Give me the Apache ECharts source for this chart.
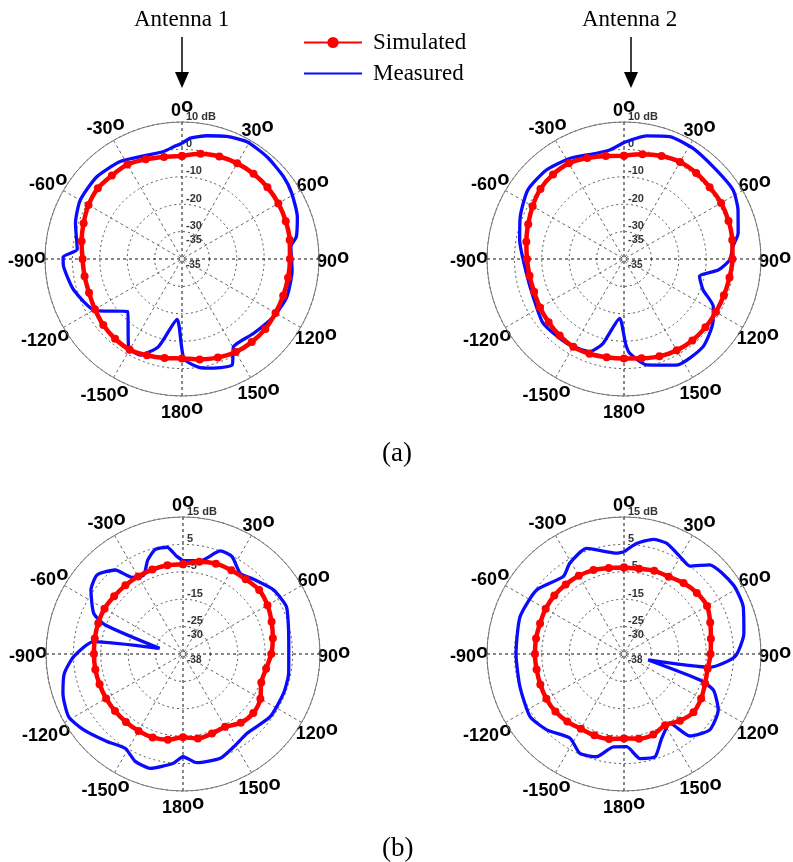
<!DOCTYPE html>
<html>
<head>
<meta charset="utf-8">
<script src="https://cdn.jsdelivr.net/npm/echarts@6/dist/echarts.min.js"></script>
<style>
html, body { margin: 0; padding: 0; background: #fff; }
#chart { width: 793px; height: 862px; }
</style>
</head>
<body>
<div id="chart"></div>
<script>
// angles (deg) where the simulated curves were read
var simAngles = [0, 10, 20, 30, 40, 50, 60, 70, 80, 90, 100, 110, 120, 130, 140, 150, 160, 170,
                 180, -170, -160, -150, -140, -130, -120, -110, -100, -90, -80, -70, -60, -50, -40, -30, -20, -10];

// (a) simulated, dB
var simA1 = [-2.4, -1.0, -0.2, 0.3, 0.6, 0.7, 0.6, 0.3, -0.1, -0.6, -0.7, -0.7, -0.6, -0.3, -0.4, -0.8, -1.7, -2.8,
             -3.7, -3.3, -2.6, -1.8, -2.0, -2.5, -3.3, -3.9, -3.9, -3.7, -2.8, -1.8, -0.6, 0.1, -0.2, -0.2, -1.3, -2.2];
var simA2 = [-2.3, -1.2, 0.0, 0.9, 1.0, 0.8, 0.9, 0.6, 0.1, -0.4, -0.9, -1.2, -1.3, -1.2, -1.2, -1.5, -2.2, -3.2,
             -3.7, -3.6, -3.2, -3.0, -3.5, -4.1, -4.6, -5.1, -5.0, -4.6, -3.8, -2.8, -1.5, -0.2, 0.3, 0.3, -0.8, -1.8];
// (b) simulated, dB
var simB1 = [-2.2, -0.8, 0.1, 0.3, 0.6, 1.3, 0.6, -0.6, -1.7, -2.8, -4.2, -4.6, -2.4, -1.5, -2.2, -4.3, -4.1, -3.7,
             -4.6, -3.2, -2.6, -2.6, -2.6, -2.6, -2.6, -2.6, -2.5, -2.5, -2.3, -2.1, -1.9, -2.2, -2.3, -2.3, -2.2, -2.1];
var simB2 = [-3.4, -3.4, -2.7, -2.4, -1.2, -0.3, 0.0, -1.5, -2.8, -3.4, -4.0, -3.5, -2.5, -1.9, -3.2, -5.0, -3.7, -3.6,
             -4.2, -3.5, -3.4, -3.5, -2.8, -2.3, -2.3, -2.5, -2.6, -2.5, -2.4, -2.4, -2.0, -1.8, -1.9, -2.0, -2.4, -3.1];

// measured curves: angle (deg) and level (dB)
var measA1Ang = [0, 4, 11.5, 20, 29, 40, 51, 59, 70, 79, 83.5, 96, 110, 122, 136, 149.5, 154.7, 167, 172, 179,
                 -175.3, -165, -156.5, -148.7, -134, -120.8, -106, -93.7, -89, -84.7, -71.5, -60, -46, -32.4, -18.6, -9.7, -4.2, 0];
var measA1 = [2.2, 4.2, 5.9, 7.6, 8.9, 8.5, 7.7, 6.7, 4.8, 2.5, 0.0, 0.4, 0.7, -0.5, -2.3, -2.9, 2.8, 0.9, -0.3, -3.7,
              -17.9, -6.9, -1.8, -2.5, -12.4, -3.2, 1.1, 3.3, 3.4, -1.6, 1.0, 2.9, 3.2, 2.1, 0.0, -0.2, 1.1, 2.2];

var measA2Ang = [0, 10.3, 20.5, 32, 46, 57.7, 66.7, 77.3, 83.5, 90.5, 96.7, 103, 111.4, 118, 125.9, 138, 153.7, 168, 176.6, 179,
                 -175.8, -166, -159.7, -145.6, -128.5, -112.5, -98.3, -79.7, -67.8, -54.3, -41.1, -28.4, -14.7, -7.5, 0];
var measA2 = [2.5, 5.7, 7.7, 7.6, 6.8, 7.1, 5.3, 2.7, 0.0, -1.4, -5.4, -11.7, -9.0, -3.1, 0.0, 3.1, 3.2, -0.5, -5.6, -9.2,
              -18.3, -8.2, -4.0, -2.8, -2.3, -4.1, -4.0, -1.3, 0.9, 3.2, 3.1, 1.7, -0.1, 0.1, 2.5];

var measB1Ang = [0, 10.6, 19.9, 26.7, 35.4, 43.4, 54.8, 65.4, 77.2, 90, 100.4, 111.3, 125.7, 141, 151.3, 160.3, 172.7, 180,
                 -175, -164, -156, -148.6, -139, -127.4, -118.7, -108.1, -99.3, -91.4, -82.1, -76.3, -69.5, -65.5,
                 -55.2, -47.4, -38.9, -33.6, -26.5, -20.6, -14.8, -8.5, -3.5, 0];
var measB1 = [-0.9, -0.4, 5.0, 4.8, 1.1, 2.5, 5.5, 6.5, 4.5, 3.6, 4.2, 4.4, 4.2, 2.2, 3.6, 5.4, 5.0, 2.5,
              5.0, 8.4, 7.9, 5.4, 7.3, 10.6, 12.6, 11.1, 8.9, 4.9, -2.0, -26.2, -4.7, 0.8,
              5.9, 7.6, 4.4, -1.4, -2.8, 1.6, 4.5, 4.4, 0.6, -0.9];

var measB2Ang = [0, 6.5, 14.3, 21, 29.9, 36.9, 43.8, 57.7, 68.4, 80.2, 91.4, 98.8, 103.9, 108.9, 112, 120.7, 131.5, 141.2,
                 146.4, 155.9, 163.2, 171.3, 178.4, -173.4, -165.1, -156.1, -147.4, -134.5, -123.7, -107.4, -90,
                 -70.3, -53.8, -38.1, -30.8, -19.5, -9.6, -4.2, 0];
var measB2 = [2.3, 5.6, 8.2, 8.3, 6.0, 5.1, 10.1, 12.2, 11.8, 9.4, 5.5, -3.2, -25.9, -5.7, 0.2, 5.0, 6.8, 3.4,
              -4.6, -1.3, 4.2, 3.6, -1.2, -0.9, 3.8, 4.7, 1.5, 4.5, 6.2, 4.8, 4.4,
              5.3, 4.5, 0.9, 3.6, 5.9, 2.8, 1.9, 2.3];

// tick labels
var angleTicks = [0, 30, 60, 90, 120, 150, 180, -150, -120, -90, -60, -30];
var ringLabelsA = [-35, -30, -20, -10, 0, 10];
var ringLabelsB = [-30, -25, -15, -5, 5, 15];
var centreLabels = ['-35', '-35', '-38', '-38'];

var plots = [
    { center: [182, 259], min: -40, max: 10, rings: ringLabelsA, sim: simA1, measAng: measA1Ang, meas: measA1 },
    { center: [624, 259], min: -40, max: 10, rings: ringLabelsA, sim: simA2, measAng: measA2Ang, meas: measA2 },
    { center: [183, 654], min: -35, max: 15, rings: ringLabelsB, sim: simB1, measAng: measB1Ang, meas: measB1 },
    { center: [624, 654], min: -35, max: 15, rings: ringLabelsB, sim: simB2, measAng: measB2Ang, meas: measB2 }
];

function toPolar(angles, vals) {
    var out = [];
    for (var i = 0; i < angles.length; i++) {
        var a = angles[i] < 0 ? angles[i] + 360 : angles[i];
        out.push([vals[i], a]);
    }
    return out;
}

var SANS = 'Liberation Sans, Arial, sans-serif';
var SERIF = 'Liberation Serif, Times New Roman, serif';
var R = 137;

var polar = [], angleAxis = [], radiusAxis = [], series = [];

plots.forEach(function (p, i) {
    polar.push({ center: p.center, radius: R });
    angleAxis.push({
        polarIndex: i, type: 'value', min: 0, max: 360, interval: 30,
        startAngle: 90, clockwise: true,
        axisLine: { lineStyle: { color: '#777', width: 1 } },
        axisTick: { show: false },
        axisLabel: { show: false },
        splitLine: { show: true, lineStyle: { color: ['#111', '#666', '#666'], type: [3, 3], width: 1 } }
    });
    var mx = p.max;
    radiusAxis.push({
        polarIndex: i, type: 'value', min: p.min, max: p.max, interval: 10,
        axisLine: { show: false },
        axisTick: { show: false },
        axisLabel: {
            customValues: p.rings,
            formatter: function (v) { return v === mx ? v + ' dB' : String(v); },
            fontSize: 11, fontWeight: 'bold', fontFamily: SANS, color: '#333',
            align: 'left', verticalAlign: 'bottom', margin: -4
        },
        splitLine: { show: true, lineStyle: { color: '#555', type: [2, 3], width: 1 } }
    });
    series.push({
        type: 'line', name: 'Measured', coordinateSystem: 'polar', polarIndex: i,
        data: toPolar(p.measAng, p.meas), symbol: 'none', smooth: 0.2,
        lineStyle: { color: '#0a0aff', width: 3.3 }, itemStyle: { color: '#0a0aff' }
    });
    var sim = toPolar(simAngles, p.sim);
    sim.push(sim[0]);
    series.push({
        type: 'line', name: 'Simulated', coordinateSystem: 'polar', polarIndex: i,
        data: sim, symbol: 'circle', symbolSize: 8, smooth: 0.3,
        lineStyle: { color: '#ff0000', width: 4.5 }, itemStyle: { color: '#ff0000' }
    });
});

var graphics = [
    { type: 'text', left: 134, top: 8, style: { text: 'Antenna 1', font: '23px ' + SERIF, fill: '#000' } },
    { type: 'text', left: 582, top: 8, style: { text: 'Antenna 2', font: '23px ' + SERIF, fill: '#000' } },
    { type: 'line', shape: { x1: 182, y1: 37, x2: 182, y2: 74 }, style: { stroke: '#000', lineWidth: 1.5 } },
    { type: 'polygon', shape: { points: [[175, 72], [189, 72], [182, 88]] }, style: { fill: '#000' } },
    { type: 'line', shape: { x1: 631, y1: 37, x2: 631, y2: 74 }, style: { stroke: '#000', lineWidth: 1.5 } },
    { type: 'polygon', shape: { points: [[624, 72], [638, 72], [631, 88]] }, style: { fill: '#000' } },
    { type: 'text', left: 382, top: 440, style: { text: '(a)', font: '27px ' + SERIF, fill: '#000' } },
    { type: 'text', left: 382, top: 835, style: { text: '(b)', font: '27px ' + SERIF, fill: '#000' } }
];

var chart = echarts.init(document.getElementById('chart'));
chart.setOption({
    animation: false,
    backgroundColor: '#fff',
    legend: {
        data: [
            { name: 'Simulated' },
            { name: 'Measured', itemStyle: { opacity: 0 } }
        ],
        orient: 'vertical', left: 298, top: 26,
        itemWidth: 58, itemHeight: 14, itemGap: 8,
        textStyle: { fontFamily: SERIF, fontSize: 23, lineHeight: 21, color: '#000', padding: [0, 0, 0, 6] }
    },
    polar: polar,
    angleAxis: angleAxis,
    radiusAxis: radiusAxis,
    series: series
});

// angle labels: number with a raised "o", centred just outside the rim
var ctx = document.createElement('canvas').getContext('2d');
var numFont = 'bold 18px ' + SANS, degFont = 'bold 20px ' + SANS;
function textW(t, f) { ctx.font = f; return ctx.measureText(t).width; }
var wo = textW('o', degFont);

plots.forEach(function (p, i) {
    var span = p.max - p.min;
    angleTicks.forEach(function (t) {
        var s = String(t);
        var wn = textW(s, numFont);
        var a = t < 0 ? t + 360 : t;
        var rc = 151 + Math.max(0, s.length - 2) * 4 * Math.abs(Math.sin(a * Math.PI / 180));
        var pt = chart.convertToPixel({ polarIndex: i }, [p.min + span * rc / R, a]);
        var x0 = pt[0] - (wn + wo) / 2;
        var y0 = pt[1] + 3;
        graphics.push({ type: 'text', x: x0, y: y0,
            style: { text: s, font: numFont, fill: '#000', align: 'left', verticalAlign: 'middle' } });
        graphics.push({ type: 'text', x: x0 + wn, y: y0 - 5,
            style: { text: 'o', font: degFont, fill: '#000', align: 'left', verticalAlign: 'middle' } });
    });
    // the extra label MATLAB drew just under each centre
    var c = chart.convertToPixel({ polarIndex: i }, [p.min + 3, 180]);
    graphics.push({ type: 'text', x: c[0] + 4, y: c[1] - 7,
        style: { text: centreLabels[i], font: 'bold 10px ' + SANS, fill: '#333' } });
});
chart.setOption({ graphic: graphics });
</script>
</body>
</html>
